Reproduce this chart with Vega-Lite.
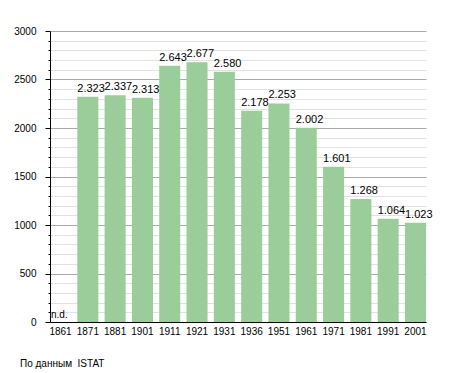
{
  "$schema": "https://vega.github.io/schema/vega-lite/v6.json",
  "width": 376,
  "height": 291,
  "autosize": {"type": "none"},
  "padding": {"left": 50, "top": 31, "right": 29, "bottom": 51},
  "config": {
    "locale": {"number": {"decimal": ",", "thousands": ".", "grouping": [3], "currency": ["", "€"]}},
    "view": {"stroke": null},
    "font": "Liberation Sans",
    "axisX": {
      "labelAngle": 0,
      "ticks": false,
      "labelPadding": 4,
      "labelFontSize": 10,
      "labelColor": "black",
      "domainColor": "black",
      "grid": false,
      "title": null
    }
  },
  "title": {
    "text": "По данным \u00a0ISTAT",
    "orient": "bottom",
    "anchor": "start",
    "frame": "group",
    "dx": -30,
    "offset": 23,
    "fontSize": 10,
    "fontWeight": "normal",
    "color": "black"
  },
  "data": {
    "values": [
      {"year": "1861", "pop": null, "label": "n.d."},
      {"year": "1871", "pop": 2323},
      {"year": "1881", "pop": 2337},
      {"year": "1901", "pop": 2313},
      {"year": "1911", "pop": 2643},
      {"year": "1921", "pop": 2677},
      {"year": "1931", "pop": 2580},
      {"year": "1936", "pop": 2178},
      {"year": "1951", "pop": 2253},
      {"year": "1961", "pop": 2002},
      {"year": "1971", "pop": 1601},
      {"year": "1981", "pop": 1268},
      {"year": "1991", "pop": 1064},
      {"year": "2001", "pop": 1023}
    ]
  },
  "layer": [
    {
      "mark": {"type": "bar", "opacity": 0},
      "encoding": {
        "x": {
          "field": "year",
          "type": "nominal",
          "title": null,
          "scale": {"domain": ["1861", "1871", "1881", "1901", "1911", "1921", "1931", "1936", "1951", "1961", "1971", "1981", "1991", "2001"], "paddingInner": 0.23, "paddingOuter": 0}
        },
        "y": {
          "field": "pop",
          "type": "quantitative",
          "scale": {"domain": [0, 3000], "nice": false},
          "title": null,
          "axis": {
            "orient": "left",
            "values": [100, 200, 300, 400, 600, 700, 800, 900, 1100, 1200, 1300, 1400, 1600, 1700, 1800, 1900, 2100, 2200, 2300, 2400, 2600, 2700, 2800, 2900],
            "labels": false,
            "domain": false,
            "tickSize": 2,
            "tickColor": "black",
            "grid": true,
            "gridColor": "#e2e2e2"
          }
        }
      }
    },
    {
      "mark": {"type": "bar", "color": "#9acd9a"},
      "encoding": {
        "x": {
          "field": "year",
          "type": "nominal",
          "title": null,
          "scale": {"domain": ["1861", "1871", "1881", "1901", "1911", "1921", "1931", "1936", "1951", "1961", "1971", "1981", "1991", "2001"], "paddingInner": 0.23, "paddingOuter": 0}
        },
        "y": {
          "field": "pop",
          "type": "quantitative",
          "scale": {"domain": [0, 3000], "nice": false},
          "title": null,
          "axis": {
            "orient": "left",
            "values": [0, 500, 1000, 1500, 2000, 2500, 3000],
            "format": "d",
            "tickSize": 5,
            "tickColor": "black",
            "labelPadding": 9,
            "labelFontSize": 10,
            "labelColor": "black",
            "domainColor": "black",
            "grid": true,
            "gridColor": "#aaaaaa"
          }
        }
      }
    },
    {
      "transform": [{"filter": "datum.pop != null"}],
      "mark": {"type": "text", "align": "left", "baseline": "alphabetic", "dy": -5, "fontSize": 11, "color": "black"},
      "encoding": {
        "x": {"field": "year", "type": "nominal", "title": null, "bandPosition": 0},
        "y": {"field": "pop", "type": "quantitative", "axis": null},
        "text": {"field": "pop", "type": "quantitative", "format": ",d"}
      }
    },
    {
      "transform": [{"filter": "datum.pop == null"}],
      "mark": {"type": "text", "align": "left", "baseline": "alphabetic", "dy": -4, "dx": 1, "fontSize": 10, "color": "black"},
      "encoding": {
        "x": {"field": "year", "type": "nominal", "title": null, "bandPosition": 0},
        "y": {"datum": 0, "type": "quantitative", "axis": null},
        "text": {"field": "label"}
      }
    }
  ],
  "resolve": {"axis": {"y": "independent"}}
}
